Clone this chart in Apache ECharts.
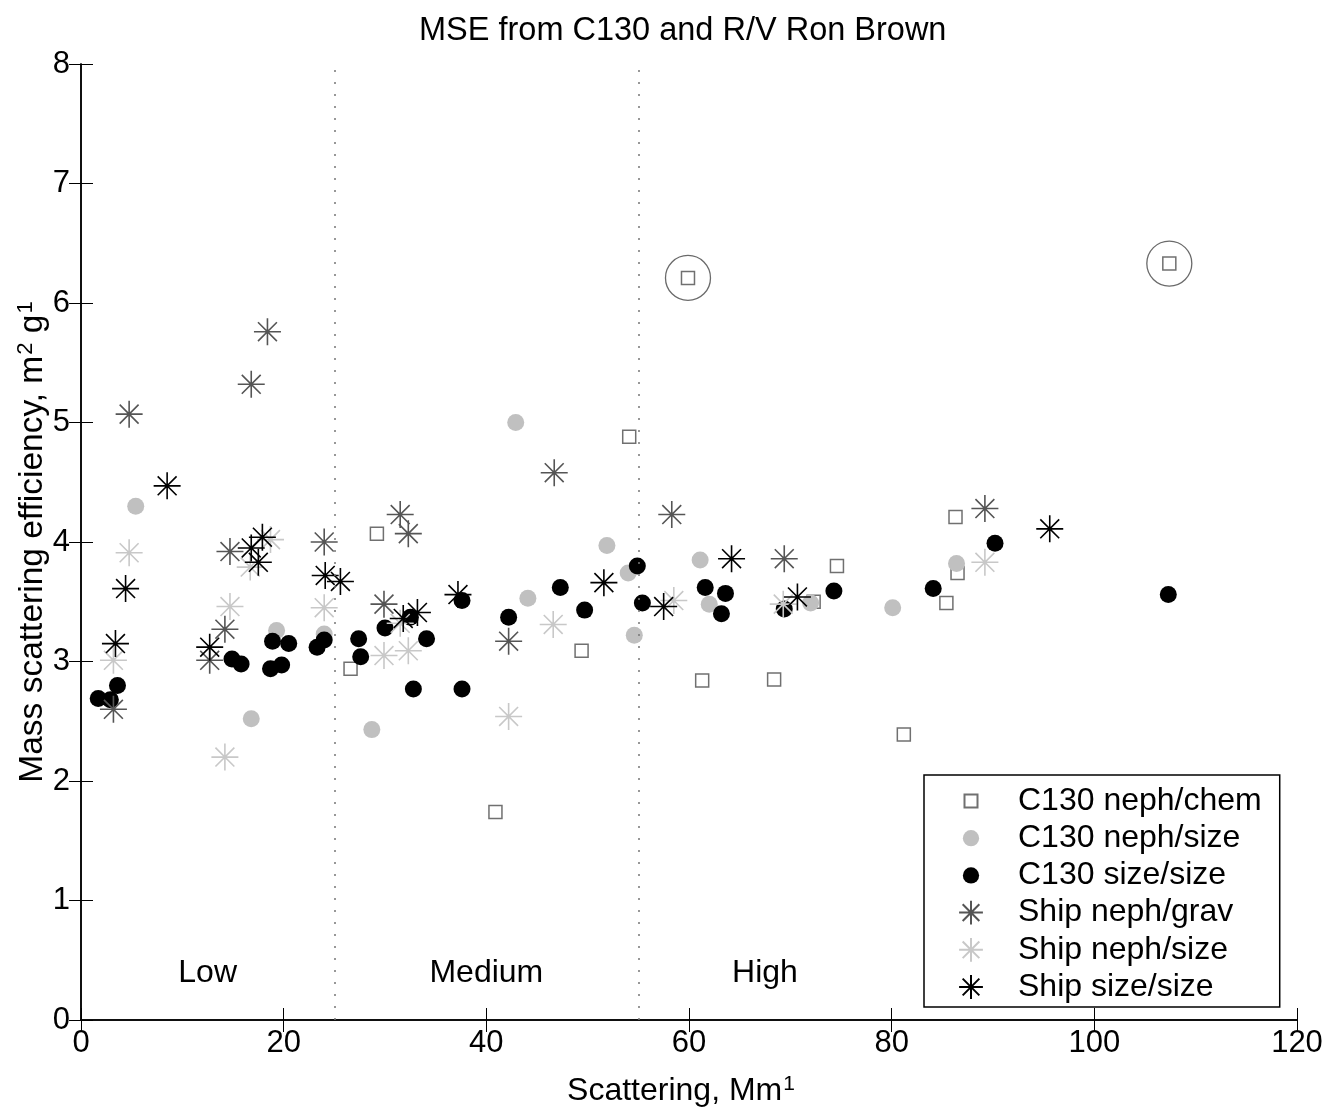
<!DOCTYPE html>
<html><head><meta charset="utf-8">
<script src="https://cdn.jsdelivr.net/npm/echarts@6/dist/echarts.min.js"></script>
<style>html,body{margin:0;padding:0;background:#fff}#c{width:1326px;height:1108px}</style>
</head><body><div id="c"></div>
<script>
// ---- data ----
const chemX = [59.9, 107.4, 54.1, 29.2, 26.6, 49.4, 40.9, 61.3, 68.4, 74.6, 72.3, 81.2, 85.4, 86.3, 86.5];
const chemY = [6.21, 6.33, 4.88, 4.07, 2.94, 3.09, 1.74, 2.84, 2.85, 3.80, 3.50, 2.39, 3.49, 4.21, 3.74];

const nephSizeX = [5.4, 19.3, 16.8, 24.0, 28.7, 42.9, 51.9, 54.0, 44.1, 54.6, 61.1, 62.0, 72.0, 80.1, 86.4];
const nephSizeY = [4.30, 3.26, 2.52, 3.23, 2.43, 5.00, 3.97, 3.74, 3.53, 3.22, 3.85, 3.48, 3.49, 3.45, 3.82];

const sizeSizeX = [1.7, 2.9, 3.6, 14.9, 15.8, 18.9, 20.5, 18.7, 19.8, 23.3, 24.0, 27.4, 27.6, 30.0, 32.5, 34.1, 32.8, 37.6, 37.6, 42.2, 47.3, 49.7, 55.4, 54.9, 61.6, 63.6, 63.2, 69.4, 74.3, 84.1, 90.2, 107.3];
const sizeSizeY = [2.69, 2.68, 2.80, 3.02, 2.98, 3.17, 3.15, 2.94, 2.97, 3.12, 3.18, 3.19, 3.04, 3.28, 3.37, 3.19, 2.77, 2.77, 3.51, 3.37, 3.62, 3.43, 3.49, 3.80, 3.62, 3.57, 3.40, 3.44, 3.59, 3.61, 3.99, 3.56];

const shipGravX = [18.4, 16.8, 4.75, 14.7, 24.0, 14.2, 12.7, 3.2, 31.5, 32.3, 46.7, 29.9, 42.2, 58.3, 69.4, 89.2];
const shipGravY = [5.76, 5.32, 5.07, 3.92, 4.00, 3.27, 3.01, 2.60, 4.23, 4.07, 4.58, 3.48, 3.17, 4.23, 3.86, 4.28];

const shipNephX = [4.75, 3.2, 14.7, 14.2, 16.7, 18.7, 24.0, 29.9, 32.3, 31.5, 46.6, 42.2, 58.5, 69.3, 89.2];
const shipNephY = [3.91, 3.01, 3.46, 2.20, 3.79, 4.02, 3.45, 3.05, 3.09, 3.32, 3.31, 2.54, 3.51, 3.48, 3.83];

const shipSizeX = [8.5, 4.4, 3.4, 12.7, 16.8, 17.9, 17.5, 24.1, 25.6, 31.8, 33.2, 37.2, 51.6, 57.5, 64.2, 70.7, 95.6];
const shipSizeY = [4.47, 3.61, 3.15, 3.12, 3.95, 4.04, 3.83, 3.72, 3.67, 3.36, 3.41, 3.56, 3.66, 3.46, 3.86, 3.54, 4.11];

const circledX = [59.9, 107.4];
const circledY = [6.21, 6.33];

const regionNames = ['Low', 'Medium', 'High'];
const regionX = [12.5, 40, 67.5];
const regionY = [0.39, 0.39, 0.39];

const dividerX = [25, 55];

const xTicks = [0, 20, 40, 60, 80, 100, 120];
const yTicks = [0, 1, 2, 3, 4, 5, 6, 7, 8];

const seriesNames = ['C130 neph/chem', 'C130 neph/size', 'C130 size/size', 'Ship neph/grav', 'Ship neph/size', 'Ship size/size'];

// ---- chart ----
const FONT = '"Liberation Sans", Arial, Helvetica, sans-serif';
const FS = 32;
const zip = (xs, ys) => xs.map((x, i) => [x, ys[i]]);
const STAR = 'path://M10 0L10 20M0 10L20 10M3 3L17 17M3 17L17 3';
const LEG_STAR = 'path://M0 0M24 24M12 1L12 23M1 12L23 12M4.3 4.3L19.7 19.7M4.3 19.7L19.7 4.3';
const LEG_SQ = 'path://M0 0M24 24M6 6L18 6L18 18L6 18Z';
const LEG_CIRC = 'path://M0 0M24 24M4.5 12A7.5 7.5 0 1 0 19.5 12A7.5 7.5 0 1 0 4.5 12Z';

const axisCommon = {
  axisLine: { show: true, lineStyle: { color: '#000', width: 1.5 } },
  axisTick: { show: true, inside: true, length: 12, lineStyle: { color: '#000', width: 1 } },
  splitLine: { show: false }
};
const supRich = (fs) => ({
  n: { fontFamily: FONT, fontSize: fs, color: '#000' },
  s: { fontFamily: FONT, fontSize: Math.round(fs * 0.66), color: '#000', verticalAlign: 'top', padding: [0, 0, 14, 1] }
});

const chart = echarts.init(document.getElementById('c'), null, { renderer: 'canvas' });
chart.setOption({
  animation: false,
  backgroundColor: '#fff',
  textStyle: { fontFamily: FONT },
  title: {
    text: 'MSE from C130 and R/V Ron Brown',
    left: 414, top: 10,
    textStyle: { fontFamily: FONT, fontSize: 32.5, fontWeight: 'normal', color: '#000' }
  },
  grid: { left: 81, right: 29, top: 64, bottom: 88, outerBoundsMode: 'none', containLabel: false },
  legend: {
    orient: 'vertical',
    left: 924, top: 775,
    padding: [10, 18, 4, 33],
    itemWidth: 84, itemHeight: 26, itemGap: 5.2,
    borderColor: '#000', borderWidth: 1.5, backgroundColor: '#fff',
    textStyle: { fontFamily: FONT, fontSize: FS, color: '#000' },
    selectedMode: false,
    data: [
      { name: seriesNames[0], icon: LEG_SQ },
      { name: seriesNames[1], icon: LEG_CIRC },
      { name: seriesNames[2], icon: LEG_CIRC },
      { name: seriesNames[3], icon: LEG_STAR },
      { name: seriesNames[4], icon: LEG_STAR },
      { name: seriesNames[5], icon: LEG_STAR }
    ]
  },
  xAxis: [
    Object.assign({
      type: 'value', min: xTicks[0], max: xTicks[xTicks.length - 1], interval: 20, position: 'bottom',
      axisLabel: { fontFamily: FONT, fontSize: 31, color: '#000', margin: 8 },
      name: '{n|Scattering, Mm}{s|1}', nameLocation: 'middle', nameGap: 54,
      nameTextStyle: { rich: supRich(32), padding: [0, 16, 0, 0] }
    }, axisCommon),
    Object.assign({
      type: 'value', min: xTicks[0], max: xTicks[xTicks.length - 1], interval: 20, position: 'top',
      axisLabel: { show: false }
    }, axisCommon)
  ],
  yAxis: [
    Object.assign({
      type: 'value', min: yTicks[0], max: yTicks[yTicks.length - 1], interval: 1, position: 'left',
      axisLabel: { fontFamily: FONT, fontSize: 31, color: '#000', margin: 11 },
      name: '{n|Mass scattering efficiency, m}{s|2}{n| g}{s|1}', nameLocation: 'middle', nameGap: 30, nameRotate: 90,
      nameMoveOverlap: false,
      nameTextStyle: { rich: supRich(33.5) }
    }, axisCommon),
    Object.assign({
      type: 'value', min: yTicks[0], max: yTicks[yTicks.length - 1], interval: 1, position: 'right',
      axisLabel: { show: false }
    }, axisCommon)
  ],
  series: [
    {
      name: seriesNames[0], type: 'scatter', symbol: 'rect', symbolSize: 13,
      itemStyle: { color: 'rgba(255,255,255,0)', borderColor: '#707070', borderWidth: 1.5, opacity: 1 },
      data: zip(chemX, chemY),
      markLine: {
        silent: true, symbol: 'none', label: { show: false },
        lineStyle: { color: '#777', width: 1.5, type: [2, 10] },
        data: dividerX.map(x => ({ xAxis: x }))
      }
    },
    {
      name: seriesNames[1], type: 'scatter', symbol: 'circle', symbolSize: 17,
      itemStyle: { color: '#c0c0c0', opacity: 1 },
      data: zip(nephSizeX, nephSizeY)
    },
    {
      name: seriesNames[2], type: 'scatter', symbol: 'circle', symbolSize: 17,
      itemStyle: { color: '#000', opacity: 1 },
      data: zip(sizeSizeX, sizeSizeY)
    },
    {
      name: seriesNames[3], type: 'scatter', symbol: STAR, symbolSize: 27,
      itemStyle: { color: 'rgba(0,0,0,0)', borderColor: '#555', borderWidth: 1.6, opacity: 1 },
      data: zip(shipGravX, shipGravY)
    },
    {
      name: seriesNames[4], type: 'scatter', symbol: STAR, symbolSize: 27,
      itemStyle: { color: 'rgba(0,0,0,0)', borderColor: '#c8c8c8', borderWidth: 1.6, opacity: 1 },
      data: zip(shipNephX, shipNephY)
    },
    {
      name: seriesNames[5], type: 'scatter', symbol: STAR, symbolSize: 27,
      itemStyle: { color: 'rgba(0,0,0,0)', borderColor: '#000', borderWidth: 1.6, opacity: 1 },
      data: zip(shipSizeX, shipSizeY)
    },
    {
      name: 'circled', type: 'scatter', symbol: 'circle', symbolSize: 45, silent: true,
      itemStyle: { color: 'rgba(0,0,0,0)', borderColor: '#6a6a6a', borderWidth: 1.3, opacity: 1 },
      data: zip(circledX, circledY)
    },
    {
      name: 'regions', type: 'scatter', symbolSize: 0, silent: true,
      itemStyle: { opacity: 1, color: '#000' },
      label: { show: true, position: 'inside', formatter: p => p.name, fontFamily: FONT, fontSize: FS, color: '#000', opacity: 1, textBorderWidth: 0 },
      data: regionX.map((x, i) => ({ name: regionNames[i], value: [x, regionY[i]] }))
    }
  ]
});
</script></body></html>
